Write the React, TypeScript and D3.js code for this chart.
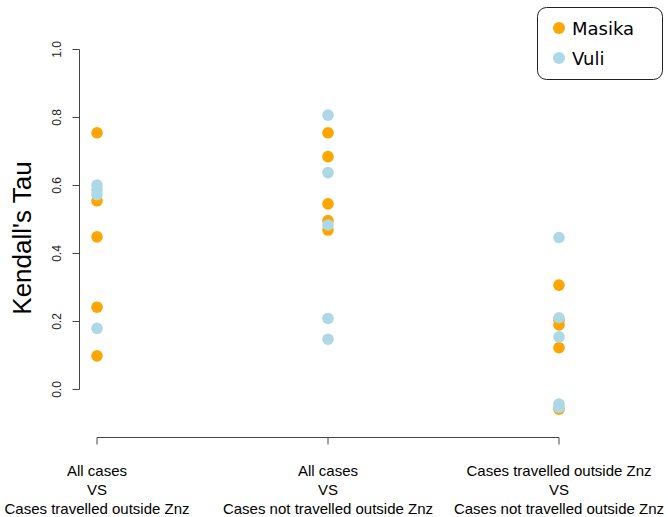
import React from "react";
import * as d3 from "d3";

const groups = [
  ["All cases", "VS", "Cases travelled outside Znz"],
  ["All cases", "VS", "Cases not travelled outside Znz"],
  ["Cases travelled outside Znz", "VS", "Cases not travelled outside Znz"],
];
const seriesNames = ["Masika", "Vuli"];
const seriesColors = ["#FFA500", "#ADD8E6"];
const masika = [
  [0.755, 0.555, 0.449, 0.242, 0.099],
  [0.755, 0.685, 0.546, 0.497, 0.469],
  [0.307, 0.204, 0.19, 0.123, -0.058],
];
const vuli = [
  [0.601, 0.587, 0.573, 0.18],
  [0.807, 0.638, 0.484, 0.209, 0.148],
  [0.447, 0.211, 0.155, -0.043, -0.053],
];
const yTicks = [0, 0.2, 0.4, 0.6, 0.8, 1.0];
const yLabel = "Kendall's Tau";

export default function App() {
  const W = 668, H = 517;
  const y = d3.scaleLinear().domain([0, 1]).range([389.5, 49.5]);
  const x = d3.scalePoint<number>().domain([0, 1, 2]).range([97, 559]);
  const axisX = 79.5;
  const axisY = 437.5;
  const r = 5.8;
  const sans = "'Liberation Sans', Arial, sans-serif";
  const series = [masika, vuli];

  return (
    <svg width={W} height={H} style={{ position: "absolute", left: 0, top: 0, background: "#fff" }}>
      {/* y axis */}
      <line x1={axisX} x2={axisX} y1={y(0)} y2={y(1)} stroke="#444" strokeWidth={1} />
      {yTicks.map((t) => (
        <g key={t}>
          <line x1={axisX - 7} x2={axisX} y1={y(t)} y2={y(t)} stroke="#444" strokeWidth={1} />
          <text
            transform={`translate(57,${y(t)}) rotate(-90)`}
            textAnchor="middle"
            dominantBaseline="central"
            fontFamily={sans}
            fontSize={12}
            fill="#222"
          >
            {d3.format(".1f")(t)}
          </text>
        </g>
      ))}
      <text
        transform={`translate(22,238) rotate(-90)`}
        textAnchor="middle"
        dominantBaseline="central"
        fontFamily={sans}
        fontSize={26}
        fill="#000"
      >
        {yLabel}
      </text>
      {/* x axis */}
      <line x1={x(0)} x2={x(2)} y1={axisY} y2={axisY} stroke="#444" strokeWidth={1} />
      {groups.map((g, i) => (
        <g key={i}>
          <line x1={x(i)} x2={x(i)} y1={axisY} y2={axisY + 7} stroke="#444" strokeWidth={1} />
          {g.map((line, j) => (
            <text
              key={j}
              x={x(i)}
              y={470 + j * 19}
              textAnchor="middle"
              dominantBaseline="central"
              fontFamily={sans}
              fontSize={15}
              fill="#000"
            >
              {line}
            </text>
          ))}
        </g>
      ))}
      {/* points */}
      {series.map((s, si) => (
        <g key={si}>
          {s.map((vals, gi) =>
            vals.map((v, k) => (
              <circle key={`${gi}-${k}`} cx={x(gi)} cy={y(v)} r={r} fill={seriesColors[si]} />
            ))
          )}
        </g>
      ))}
      {/* legend */}
      <rect x={537.5} y={7.5} width={125} height={72} rx={9} ry={9} fill="#fff" stroke="#222" strokeWidth={1} />
      {seriesNames.map((n, i) => (
        <g key={n}>
          <circle cx={559} cy={28 + i * 30} r={6} fill={seriesColors[i]} />
          <text
            x={572}
            y={28 + i * 30}
            dominantBaseline="central"
            fontFamily="'DejaVu Sans', sans-serif"
            fontSize={18}
            fill="#000"
          >
            {n}
          </text>
        </g>
      ))}
    </svg>
  );
}
